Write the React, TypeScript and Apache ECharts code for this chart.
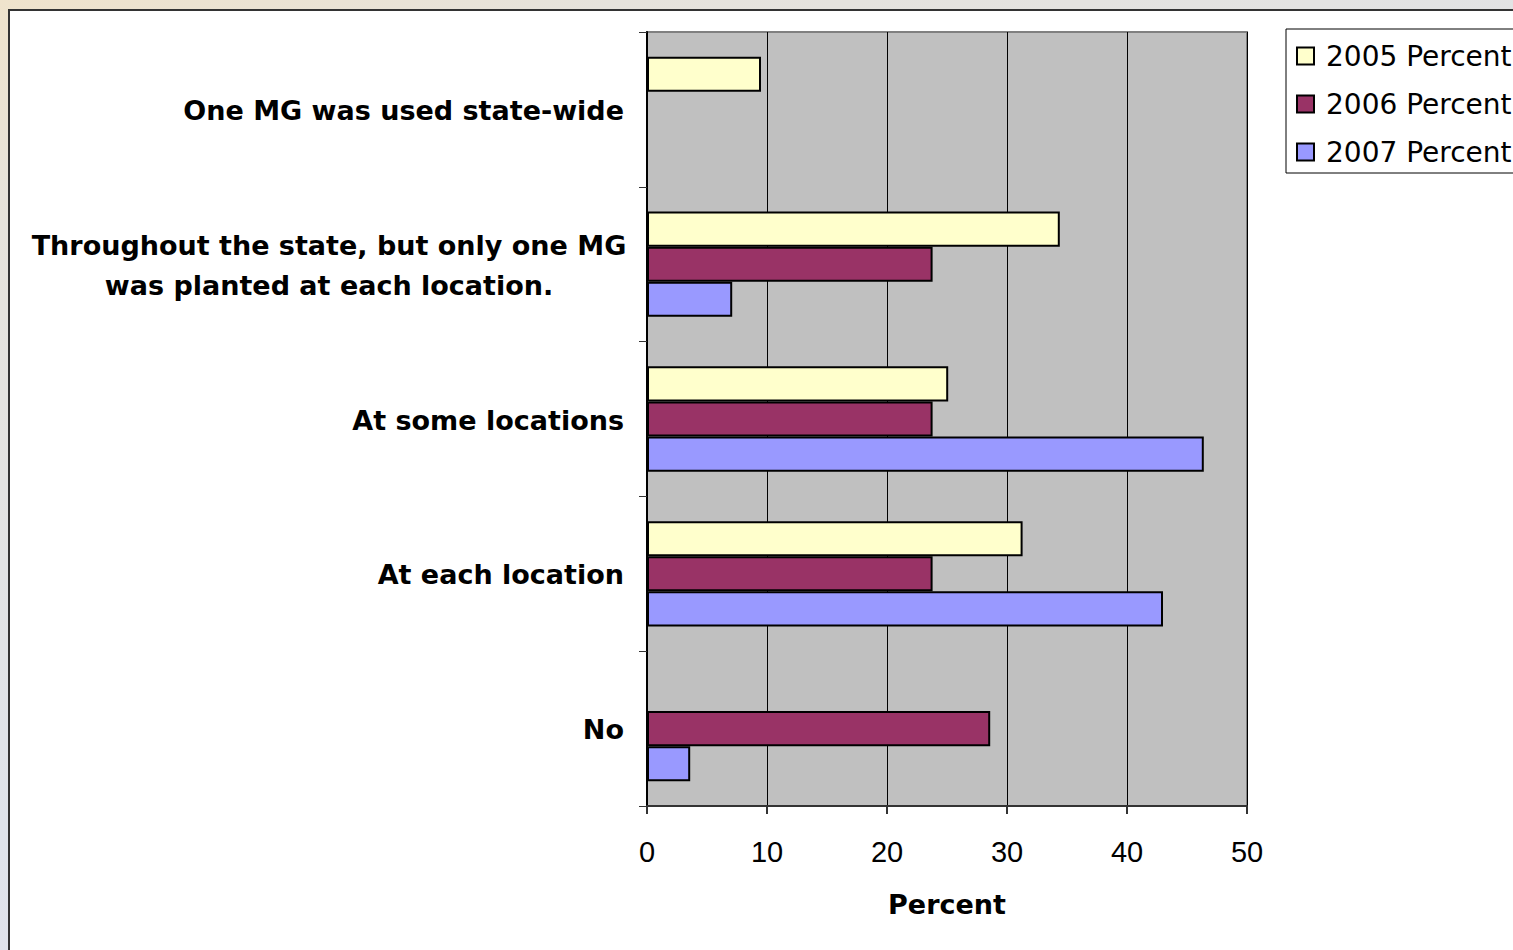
import React, { useEffect, useRef } from "react";
import * as echarts from "echarts";

const categories = [
  "One MG was used state-wide",
  "Throughout the state, but only one MG was planted at each location.",
  "At some locations",
  "At each location",
  "No",
];
const seriesNames = ["2005 Percent", "2006 Percent", "2007 Percent"];
const values2005 = [9.5, 34.4, 25.1, 31.3, null];
const values2006 = [null, 23.8, 23.8, 23.8, 28.6];
const values2007 = [null, 7.1, 46.4, 43.0, 3.6];
const seriesColors = ["#ffffcc", "#993366", "#9999ff"];
const xTicks = { min: 0, max: 50, interval: 10 };

const BOLD = "DejaVu Sans";

export default function App() {
  const ref = useRef<HTMLDivElement>(null);

  useEffect(() => {
    document.body.style.margin = "0";
    if (!ref.current) return;
    const chart = echarts.init(ref.current, undefined, { renderer: "svg" });
    const data = [values2005, values2006, values2007];
    chart.setOption({
      animation: false,
      backgroundColor: "transparent",
      grid: {
        left: 647,
        right: 266,
        top: 32,
        bottom: 144,
        show: true,
        backgroundColor: "#c0c0c0",
        borderColor: "#808080",
        borderWidth: 2,
        containLabel: false,
      },
      legend: {
        orient: "vertical",
        left: 1286,
        top: 29,
        padding: [12, 10, 6, 10],
        itemWidth: 17,
        itemHeight: 17,
        itemGap: 18,
        icon: "rect",
        borderColor: "#000",
        borderWidth: 1,
        backgroundColor: "#fff",
        textStyle: {
          fontFamily: "DejaVu Sans",
          fontSize: 28,
          color: "#000",
          lineHeight: 30,
          padding: [0, 0, 0, 7],
        },
        data: seriesNames,
      },
      xAxis: {
        type: "value",
        min: xTicks.min,
        max: xTicks.max,
        interval: xTicks.interval,
        name: "Percent",
        nameLocation: "middle",
        nameGap: 85,
        nameTextStyle: {
          fontFamily: BOLD,
          fontWeight: "bold",
          fontSize: 27,
          color: "#000",
        },
        axisLine: { show: true, lineStyle: { color: "#333", width: 2 } },
        axisTick: { show: true, length: 8, lineStyle: { color: "#333", width: 2 } },
        axisLabel: {
          margin: 31,
          fontFamily: "Liberation Sans",
          fontSize: 29,
          color: "#000",
        },
        splitLine: { show: true, lineStyle: { color: "#000", width: 1 } },
      },
      yAxis: {
        type: "category",
        inverse: true,
        data: categories,
        axisLine: { show: true, lineStyle: { color: "#000", width: 2 } },
        axisTick: { show: true, length: 8, lineStyle: { color: "#333", width: 1 } },
        axisLabel: {
          margin: 23,
          fontFamily: BOLD,
          fontWeight: "bold",
          fontSize: 27,
          color: "#000",
          padding: [2, 0, 0, 0],
          formatter: (v: string) => {
            if (v.startsWith("Throughout")) {
              return "{c|Throughout the state, but only one MG}\n{c|was planted at each location.}";
            }
            return v;
          },
          rich: {
            c: {
              fontFamily: BOLD,
              fontWeight: "bold",
              fontSize: 27,
              color: "#000",
              width: 590,
              align: "center",
              lineHeight: 40,
            },
          },
        },
        splitLine: { show: false },
      },
      series: seriesNames.map((name, i) => ({
        name,
        type: "bar",
        data: data[i],
        barGap: "0%",
        barCategoryGap: "32%",
        itemStyle: {
          color: seriesColors[i],
          borderColor: "#000",
          borderWidth: 2,
        },
      })),
    });
    return () => chart.dispose();
  }, []);

  return (
    <div
      style={{
        position: "relative",
        width: 1513,
        height: 950,
        overflow: "hidden",
        background:
          "linear-gradient(160deg, #efe3cc 0%, #e6e3dc 15%, #dfe3ea 55%, #e4e4ee 100%)",
      }}
    >
      <div
        style={{
          position: "absolute",
          left: 8,
          top: 9,
          width: 1520,
          height: 960,
          background: "#fff",
          borderLeft: "2px solid #333",
          borderTop: "2px solid #333",
        }}
      />
      <div
        ref={ref}
        style={{ position: "absolute", left: 0, top: 0, width: 1513, height: 950 }}
      />
    </div>
  );
}
